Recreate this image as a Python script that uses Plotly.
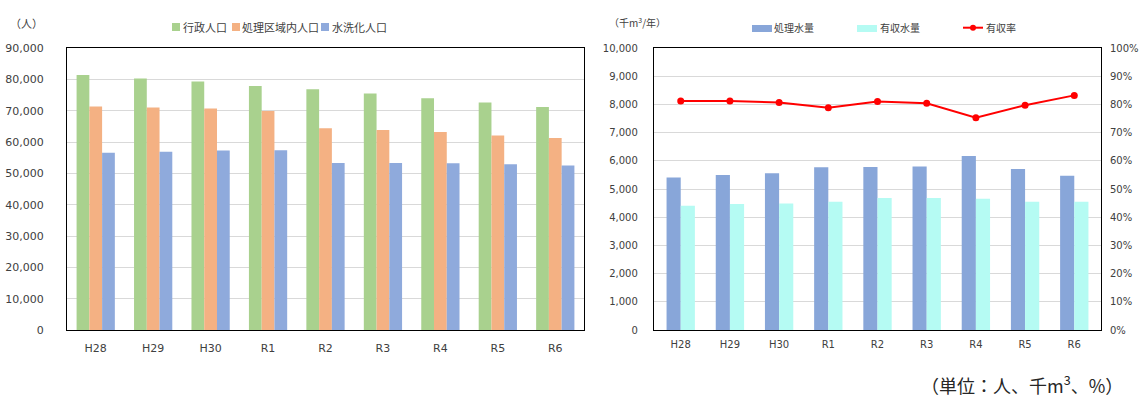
import plotly.graph_objects as go

# ---------------- data ----------------
categories = ["H28", "H29", "H30", "R1", "R2", "R3", "R4", "R5", "R6"]
admin_pop = [81400, 80300, 79300, 77900, 76800, 75500, 74000, 72600, 71200]   # 行政人口
area_pop = [71300, 71000, 70700, 69900, 64400, 63800, 63200, 62100, 61300]    # 処理区域内人口
flush_pop = [56600, 56900, 57300, 57400, 53300, 53300, 53200, 52900, 52500]   # 水洗化人口
treated = [5410, 5500, 5560, 5770, 5780, 5800, 6170, 5710, 5470]              # 処理水量
revenue = [4410, 4470, 4490, 4550, 4680, 4680, 4650, 4550, 4550]              # 有収水量
rate = [81.2, 81.2, 80.7, 78.8, 81.0, 80.4, 75.3, 79.7, 83.2]                  # 有収率 (%)

left_names = ["行政人口", "処理区域内人口", "水洗化人口"]
right_names = ["処理水量", "有収水量", "有収率"]

# ---------------- styles ----------------
W, H = 1142, 397
C_GREEN, C_ORANGE, C_BLUE = "#a9d18e", "#f4b183", "#8faadc"
C_BLUE2, C_CYAN, C_RED = "#88a6d9", "#b5fbf3", "#ff0000"
GRID = "#d9d9d9"
TXT = "#404040"
NUM_FONT = "DejaVu Sans"
JP_FONT = "Noto Sans CJK JP"


def px(x):
    return x / W


def py(y):
    return 1 - y / H


fig = go.Figure()

# left chart bars
lw = 0.222
for vals, col, name, off in [
    (admin_pop, C_GREEN, left_names[0], -1.5 * lw),
    (area_pop, C_ORANGE, left_names[1], -0.5 * lw),
    (flush_pop, C_BLUE, left_names[2], 0.5 * lw),
]:
    fig.add_trace(go.Bar(x=categories, y=vals, name=name, marker=dict(color=col, line=dict(width=0)),
                         width=lw, offset=off, xaxis="x", yaxis="y", showlegend=False))

# right chart bars
rw = 0.288
for vals, col, name, off in [
    (treated, C_BLUE2, right_names[0], -rw),
    (revenue, C_CYAN, right_names[1], 0),
]:
    fig.add_trace(go.Bar(x=categories, y=vals, name=name, marker=dict(color=col, line=dict(width=0)),
                         width=rw, offset=off, xaxis="x2", yaxis="y2", showlegend=False))

fig.add_trace(go.Scatter(x=categories, y=rate, name=right_names[2], mode="lines+markers",
                         line=dict(color=C_RED, width=2), marker=dict(color=C_RED, size=7),
                         xaxis="x2", yaxis="y3", showlegend=False))

ydom = [py(330), py(48)]
axis_common = dict(showline=True, linecolor="#000000", linewidth=1.3, mirror=True,
                   zeroline=False, automargin=False, ticks="")

fig.update_layout(
    width=W, height=H, autosize=False, template="none",
    margin=dict(l=0, r=0, t=0, b=0),
    paper_bgcolor="white", plot_bgcolor="white",
    barmode="group",
    xaxis=dict(domain=[px(67), px(584)], anchor="y", type="category", showgrid=False,
               tickfont=dict(family=NUM_FONT, size=11, color=TXT), ticklabelstandoff=8, **axis_common),
    yaxis=dict(domain=ydom, anchor="x", range=[0, 90000], dtick=10000, tickformat=",",
               showgrid=True, gridcolor=GRID, gridwidth=1,
               tickfont=dict(family=NUM_FONT, size=11, color=TXT), ticklabelstandoff=20, **axis_common),
    xaxis2=dict(domain=[px(654), px(1101)], anchor="y2", type="category", showgrid=False,
                tickfont=dict(family=NUM_FONT, size=10, color=TXT), ticklabelstandoff=5, **axis_common),
    yaxis2=dict(domain=ydom, anchor="x2", range=[0, 10000], dtick=1000, tickformat=",",
                showgrid=True, gridcolor=GRID, gridwidth=1,
                tickfont=dict(family=NUM_FONT, size=10, color=TXT), ticklabelstandoff=13, **axis_common),
    yaxis3=dict(domain=ydom, anchor="x2", overlaying="y2", side="right", range=[0, 100], dtick=10,
                ticksuffix="%", showgrid=False, showline=False, zeroline=False, automargin=False,
                ticks="", tickfont=dict(family=NUM_FONT, size=10, color=TXT), ticklabelstandoff=8),
)

# ---------------- custom legends ----------------
shapes = []
annotations = []
# left legend: small squares
for x0, col, name, tx in [(172, C_GREEN, left_names[0], 182), (232, C_ORANGE, left_names[1], 241),
                          (321, C_BLUE, left_names[2], 331)]:
    shapes.append(dict(type="rect", xref="paper", yref="paper", x0=px(x0), x1=px(x0 + 8),
                       y0=py(31), y1=py(23), fillcolor=col, line=dict(width=0)))
    annotations.append(dict(xref="paper", yref="paper", x=px(tx - 1), y=py(27), xanchor="left",
                            yanchor="middle", showarrow=False, text=name,
                            font=dict(family=JP_FONT, size=11, color=TXT)))
# right legend
for x0, col, name, tx in [(752, C_BLUE2, right_names[0], 773), (857, C_CYAN, right_names[1], 879)]:
    shapes.append(dict(type="rect", xref="paper", yref="paper", x0=px(x0), x1=px(x0 + 20),
                       y0=py(32), y1=py(25), fillcolor=col, line=dict(width=0)))
    annotations.append(dict(xref="paper", yref="paper", x=px(tx - 1), y=py(27.5), xanchor="left",
                            yanchor="middle", showarrow=False, text=name,
                            font=dict(family=JP_FONT, size=10, color=TXT)))
shapes.append(dict(type="line", xref="paper", yref="paper", x0=px(963), x1=px(983), y0=py(27.7),
                   y1=py(27.7), line=dict(color=C_RED, width=2)))
shapes.append(dict(type="circle", xref="paper", yref="paper", x0=px(970), x1=px(976), y0=py(30.7),
                   y1=py(24.7), fillcolor=C_RED, line=dict(width=0)))
annotations.append(dict(xref="paper", yref="paper", x=px(984), y=py(27.5), xanchor="left",
                        yanchor="middle", showarrow=False, text=right_names[2],
                        font=dict(family=JP_FONT, size=10, color=TXT)))

# unit labels
annotations.append(dict(xref="paper", yref="paper", x=px(26), y=py(22.5), xanchor="center",
                        yanchor="middle", showarrow=False, text="（人）",
                        font=dict(family=JP_FONT, size=11, color=TXT)))
annotations.append(dict(xref="paper", yref="paper", x=px(637), y=py(22.5), xanchor="center",
                        yanchor="middle", showarrow=False, text="（千m<sup>3</sup>/年）",
                        font=dict(family=JP_FONT, size=10, color=TXT)))
annotations.append(dict(xref="paper", yref="paper", x=px(1022), y=py(384), xanchor="center",
                        yanchor="middle", showarrow=False, text="（単位：人、千m<sup>3</sup>、%）",
                        font=dict(family=JP_FONT, size=18, color="#262626")))

fig.update_layout(shapes=shapes, annotations=annotations)

fig.write_html("out.html", config={"displayModeBar": False},
               post_script="document.body.style.margin='0px';")
